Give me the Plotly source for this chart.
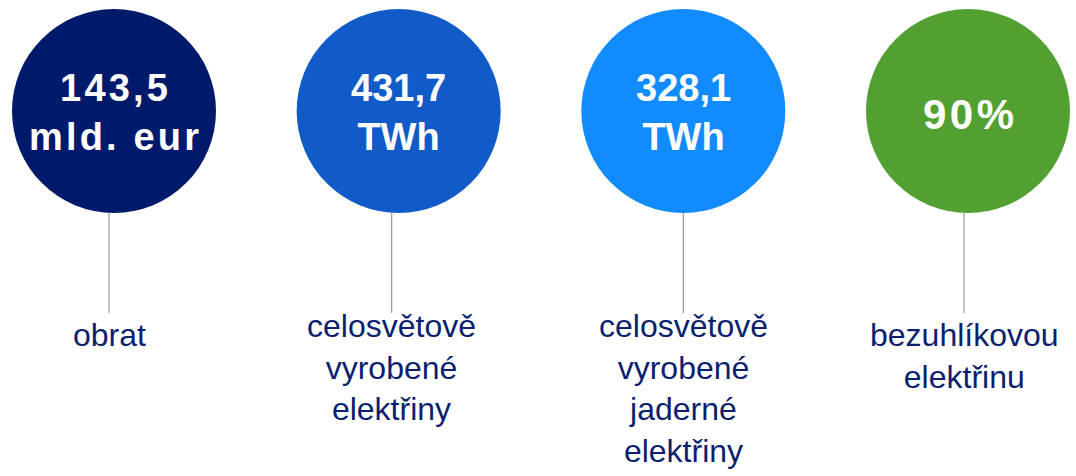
import plotly.graph_objects as go

# ---- data ----
values = ["143,5", "431,7", "328,1", "90%"]
units = ["mld. eur", "TWh", "TWh", ""]
labels = [
    "obrat",
    "celosvětově<br>vyrobené<br>elektřiny",
    "celosvětově<br>vyrobené<br>jaderné<br>elektřiny",
    "bezuhlíkovou<br>elektřinu",
]
colors = ["#001A6B", "#115BC8", "#128BFF", "#52A032"]

# ---- style / layout ----
W, H = 1076, 476
cx0, cx3 = 114, 968             # pixel centres of first and last circle
step = (cx3 - cx0) / 3
circle_y = 111
diam = 204
line_top, line_bot = 213, 313
label_top = 315
label_shift_y = [0, -9, -9, 0]
letter_gap = ["\u200a", "", "", "\u200a"]
value_size = [38, 38, 38, 42]
value_dy = [1, 1, 1, 3]
label_shift_px = [-5, -7, 0, -4]
navy = "#0B1F6E"
font = "Liberation Sans, Arial, sans-serif"

idx = list(range(len(values)))
fig = go.Figure()

# circles
fig.add_trace(go.Scatter(
    x=idx, y=[circle_y] * len(idx), mode="markers", cliponaxis=False,
    marker=dict(size=diam, color=colors, line=dict(width=0), opacity=1),
    hoverinfo="skip", showlegend=False,
))

# connector lines
lx, ly = [], []
for i in idx:
    xi = i + label_shift_px[i] / step
    lx += [xi, xi, None]
    ly += [line_top, line_bot, None]
fig.add_trace(go.Scatter(x=lx, y=ly, mode="lines",
                         line=dict(color="#9A9A9A", width=1.2),
                         hoverinfo="skip", showlegend=False))

def spaced(s, g):
    return g.join(list(s)) if g else s

for i in idx:
    g = letter_gap[i]
    txt = spaced(values[i], g)
    if units[i]:
        txt += "<br>" + spaced(units[i], g)
    fig.add_annotation(x=i, y=circle_y + value_dy[i], text=txt, showarrow=False,
                       xanchor="center", yanchor="middle",
                       font=dict(family=font, size=value_size[i], color="white", weight="bold"))
    fig.add_annotation(x=i + label_shift_px[i] / step, y=label_top + label_shift_y[i],
                       text=labels[i], showarrow=False, xanchor="center", yanchor="top",
                       align="center",
                       font=dict(family=font, size=32, color=navy))

fig.update_layout(
    width=W, height=H, margin=dict(l=0, r=0, t=0, b=0),
    paper_bgcolor="white", plot_bgcolor="white",
    xaxis=dict(range=[-cx0 / step, (W - cx0) / step], visible=False, fixedrange=True),
    yaxis=dict(range=[H, 0], visible=False, fixedrange=True),
)
fig.write_html("out.html", config={"displayModeBar": False},
               post_script="document.body.style.margin='0';")
